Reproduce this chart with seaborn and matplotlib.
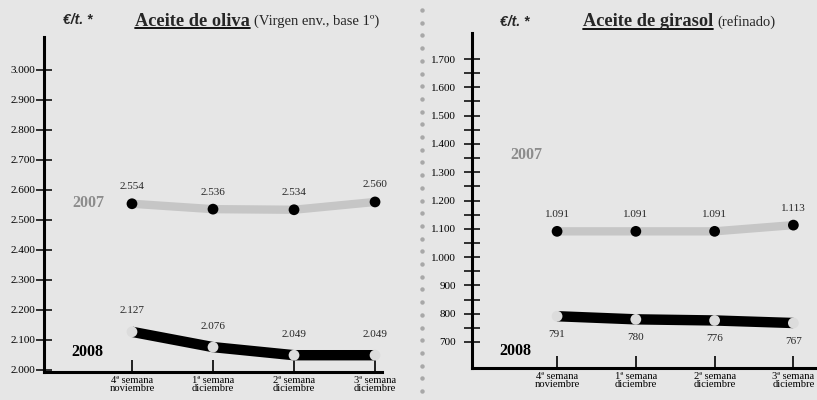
import numpy as np
import pandas as pd
import matplotlib.pyplot as plt
import seaborn as sns
from matplotlib.lines import Line2D
from matplotlib.ticker import FuncFormatter

# Datos (euros / tonelada)
weeks = ["4ª semana\nnoviembre", "1ª semana\ndiciembre", "2ª semana\ndiciembre", "3ª semana\ndiciembre"]
oliva_2007 = [2554, 2536, 2534, 2560]
oliva_2008 = [2127, 2076, 2049, 2049]
girasol_2007 = [1091, 1091, 1091, 1113]
girasol_2008 = [791, 780, 776, 767]

BG = "#e6e6e6"
GREY_LINE = "#c6c6c6"
GREY_TEXT = "#8c8c8c"
LIGHT_DOT = "#dcdcdc"

W, H = 817, 400


def miles(v, pos=None):
    return f"{int(round(v)):,}".replace(",", ".")


def fx(px):
    return px / W


def fy(py):
    return 1 - py / H


def draw_panel(ax, y07, y08, off07, off08):
    df = pd.DataFrame({"x": range(len(weeks)), "y07": y07, "y08": y08})
    sns.lineplot(data=df, x="x", y="y07", ax=ax, color=GREY_LINE, lw=6, solid_capstyle="butt")
    sns.scatterplot(data=df, x="x", y="y07", ax=ax, color="black", s=60, edgecolor="none", zorder=4)
    sns.lineplot(data=df, x="x", y="y08", ax=ax, color="black", lw=7.5, solid_capstyle="butt")
    sns.scatterplot(data=df, x="x", y="y08", ax=ax, color=LIGHT_DOT, s=60, edgecolor="none", zorder=4)

    for i, v in enumerate(y07):
        ax.annotate(miles(v), (i, v), xytext=(0, off07), textcoords="offset pixels",
                    ha="center", va="center", fontsize=8)
    for i, v in enumerate(y08):
        ax.annotate(miles(v), (i, v), xytext=(0, off08), textcoords="offset pixels",
                    ha="center", va="center", fontsize=8)

    ax.set_xlabel("")
    ax.set_ylabel("")
    ax.set_facecolor(BG)
    ax.set_xticks(range(len(weeks)))
    ax.set_xticklabels(weeks)
    for lbl in ax.get_xticklabels():
        lbl.set_linespacing(0.8)
    ax.yaxis.set_major_formatter(FuncFormatter(miles))
    for side in ["top", "right"]:
        ax.spines[side].set_visible(False)
    for side in ["left", "bottom"]:
        ax.spines[side].set_linewidth(2.2)
        ax.spines[side].set_color("black")
    ax.tick_params(axis="x", bottom=True, direction="in", length=9, width=1.2,
                   labelsize=7.6, pad=3, colors="black")
    ax.tick_params(axis="y", left=True, direction="inout", length=11, width=1.1,
                   labelsize=8, colors="black")


sns.set_theme(style="white")
plt.rcParams["font.family"] = ["Liberation Serif", "DejaVu Serif"]

fig = plt.figure(figsize=(W / 100, H / 100), dpi=100)
fig.patch.set_facecolor(BG)

# Panel izquierdo: aceite de oliva
ax1 = fig.add_axes([fx(44), fy(372), fx(382 - 44), (372 - 37) / H])
draw_panel(ax1, oliva_2007, oliva_2008, 17, 21)
ax1.set_xlim(-1.086, 3.086)
ax1.set_ylim(1993, 3110)
ax1.set_yticks(np.arange(2000, 3001, 100))
ax1.tick_params(axis="y", pad=1)

# Panel derecho: aceite de girasol
ax2 = fig.add_axes([fx(472), fy(368), fx(817 - 472), (368 - 33) / H])
draw_panel(ax2, girasol_2007, girasol_2008, 17, -18)
ax2.set_xlim(-1.08, 3.3)
ax2.set_ylim(608, 1792)
ax2.set_yticks(np.arange(700, 1701, 100))
ax2.set_yticks(np.arange(750, 1700, 100), minor=True)
ax2.tick_params(axis="y", which="major", pad=6)
ax2.tick_params(axis="y", which="minor", left=True, direction="inout", length=12, width=1.1, colors="black")

# Etiquetas de año
year_kw = dict(fontsize=11.5, fontweight="bold", ha="center", va="center")
fig.text(fx(88), fy(203), "2007", color=GREY_TEXT, **year_kw)
fig.text(fx(87), fy(352), "2008", color="black", **year_kw)
fig.text(fx(526), fy(155), "2007", color=GREY_TEXT, **year_kw)
fig.text(fx(515), fy(351), "2008", color="black", **year_kw)

# Títulos
unit_kw = dict(fontsize=10, fontweight="bold", style="italic",
               family=["Liberation Sans", "DejaVu Sans"], va="center")
fig.text(fx(63), fy(20), "€/t. *", **unit_kw)
fig.text(fx(500), fy(22), "€/t. *", **unit_kw)

t1 = fig.text(fx(135), fy(21), "Aceite de oliva", fontsize=13.2, fontweight="bold", va="center")
fig.text(fx(254), fy(21), "(Virgen env., base 1º)", fontsize=10.5, va="center")
t2 = fig.text(fx(583), fy(22), "Aceite de girasol", fontsize=13.2, fontweight="bold", va="center")
fig.text(fx(717), fy(22), "(refinado)", fontsize=10.5, va="center")

# Subrayado de los títulos
fig.canvas.draw()
renderer = fig.canvas.get_renderer()
for t in (t1, t2):
    bb = t.get_window_extent(renderer).transformed(fig.transFigure.inverted())
    fig.add_artist(Line2D([bb.x0, bb.x1], [bb.y0 + 0.004, bb.y0 + 0.004],
                          transform=fig.transFigure, color="black", lw=1.3))

# Separador punteado entre paneles
dots_y = np.arange(10, 398, 12.7)
fig.add_artist(Line2D([fx(422)] * len(dots_y), [fy(v) for v in dots_y], transform=fig.transFigure,
                      ls="none", marker="o", markersize=3.2, color="#a8a8a8", markeredgewidth=0))

fig.savefig("out.png", dpi=100, facecolor=BG)
